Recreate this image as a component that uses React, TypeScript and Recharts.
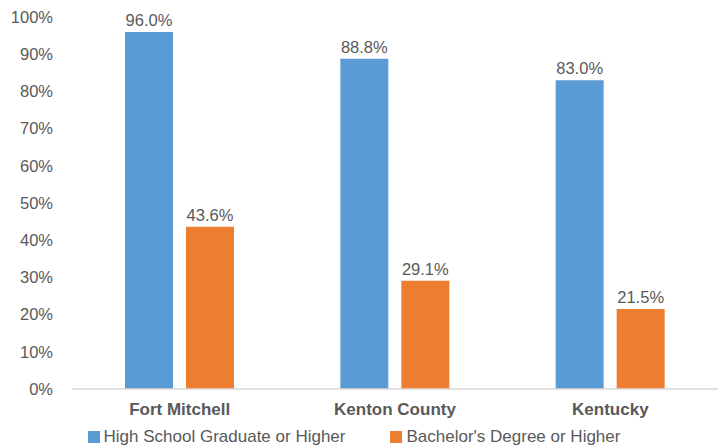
import { Bar, BarChart, LabelList, Legend, XAxis, YAxis } from "recharts";

const categories = ["Fort Mitchell", "Kenton County", "Kentucky"];
const highSchool = [96.0, 88.8, 83.0];
const bachelors = [43.6, 29.1, 21.5];
const yTicks = [0, 10, 20, 30, 40, 50, 60, 70, 80, 90, 100];

const series = [
  { key: "highSchool", name: "High School Graduate or Higher", color: "#5B9BD5" },
  { key: "bachelors", name: "Bachelor's Degree or Higher", color: "#ED7D31" },
];

const data = categories.map((name, i) => ({
  name,
  highSchool: highSchool[i],
  bachelors: bachelors[i],
}));

const FONT = "'Liberation Sans', Arial, sans-serif";
const TEXT = "#595959";

function LegendContent() {
  return (
    <div
      style={{
        height: 20,
        display: "flex",
        justifyContent: "center",
        alignItems: "center",
        gap: 45,
        fontFamily: FONT,
        fontSize: 17,
        color: TEXT,
        paddingRight: 10,
      }}
    >
      {series.map((s) => (
        <div key={s.key} style={{ display: "flex", alignItems: "center" }}>
          <span
            style={{
              width: 12,
              height: 12,
              background: s.color,
              display: "inline-block",
              marginRight: 4,
            }}
          />
          <span>{s.name}</span>
        </div>
      ))}
    </div>
  );
}

export default function App() {
  return (
    <div style={{ position: "absolute", left: 0, top: 0, background: "#fff" }}>
      <BarChart
        width={722}
        height={447}
        data={data}
        margin={{ top: 17, right: 4, left: 0, bottom: 0 }}
        barSize={48}
        barGap={13}
      >
        <XAxis
          dataKey="name"
          height={38}
          tickLine={false}
          tickSize={0}
          tickMargin={14}
          axisLine={{ stroke: "#D9D9D9", strokeWidth: 1.5 }}
          tick={{ fill: TEXT, fontSize: 17, fontWeight: 700, fontFamily: FONT }}
        />
        <YAxis
          width={72}
          domain={[0, 100]}
          ticks={yTicks}
          interval={0}
          axisLine={false}
          tickLine={false}
          tickSize={0}
          tickMargin={19}
          tickFormatter={(v) => `${v}%`}
          tick={{ fill: TEXT, fontSize: 16.5, fontFamily: FONT }}
        />
        <Legend verticalAlign="bottom" content={<LegendContent />} />
        {series.map((s) => (
          <Bar
            key={s.key}
            dataKey={s.key}
            name={s.name}
            fill={s.color}
            isAnimationActive={false}
          >
            <LabelList
              dataKey={s.key}
              position="top"
              offset={6}
              formatter={(v: any) => `${Number(v).toFixed(1)}%`}
              style={{ fill: TEXT, fontSize: 16.5, fontFamily: FONT }}
            />
          </Bar>
        ))}
      </BarChart>
    </div>
  );
}
